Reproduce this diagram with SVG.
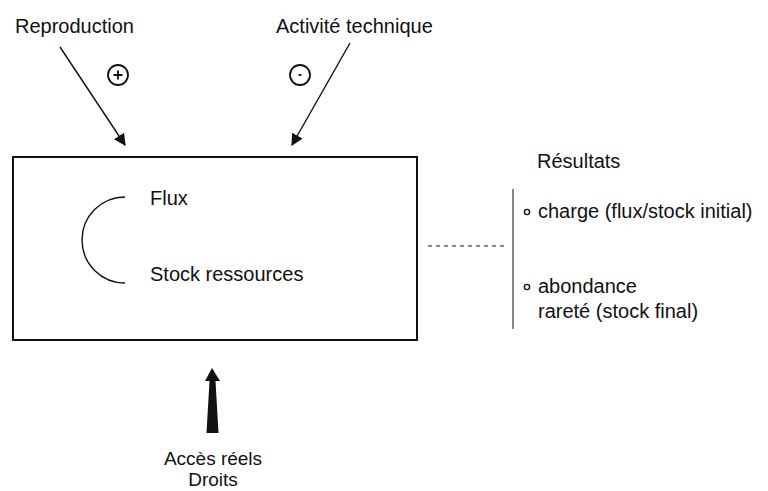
<svg xmlns="http://www.w3.org/2000/svg" width="768" height="491" viewBox="0 0 768 491">
<defs>
<style>
text{font-family:"Liberation Sans",Arial,sans-serif;font-size:20px;fill:#111}
.ln{stroke:#111;fill:none;stroke-width:1.4}
.sign{stroke:#111;fill:none;stroke-width:1.8}
.bot{font-size:19px}
</style>
<marker id="ah" viewBox="0 0 10 10" refX="9" refY="5" markerWidth="12" markerHeight="12" markerUnits="userSpaceOnUse" orient="auto">
<path d="M0,0 L10,5 L0,10 Z" fill="#111"/>
</marker>
</defs>
<rect width="768" height="491" fill="#fff"/>
<g id="reproduction">
<text x="15" y="33">Reproduction</text>
<circle cx="118" cy="75" r="10" class="sign"/>
<path d="M113.5,75 H122.5 M118,70.5 V79.5" class="sign" stroke-width="2"/>
</g>
<g id="activite">
<text x="276" y="33">Activité technique</text>
<circle cx="300" cy="75" r="10" class="sign"/>
<path d="M298.5,75 H301.5" class="sign" stroke-width="2"/>
</g>
<g id="systeme">
<rect x="13" y="157" width="404" height="183" fill="none" stroke="#111" stroke-width="2"/>
<path d="M125,197 A43,43 0 0 0 125,283" class="ln"/>
<text x="150" y="205">Flux</text>
<text x="150" y="281">Stock ressources</text>
</g>
<g id="resultats">
<text x="537" y="168">Résultats</text>
<line x1="513" y1="189" x2="513" y2="329" stroke="#111" stroke-width="1"/>
<circle cx="527" cy="212" r="2.6" class="ln" stroke-width="1.6"/>
<text x="538" y="218">charge (flux/stock initial)</text>
<circle cx="527" cy="287" r="2.6" class="ln" stroke-width="1.6"/>
<text x="538" y="293">abondance</text>
<text x="538" y="318">rareté (stock final)</text>
</g>
<g id="acces">
<text class="bot" x="213" y="465" text-anchor="middle">Accès réels</text>
<text class="bot" x="213" y="486" text-anchor="middle">Droits</text>
</g>
<g id="connectors">
<line x1="60" y1="47" x2="125" y2="145" class="ln" marker-end="url(#ah)"/>
<line x1="350" y1="43" x2="292" y2="145" class="ln" marker-end="url(#ah)"/>
<line x1="428" y1="246" x2="504" y2="246" stroke="#111" stroke-width="1" stroke-dasharray="4,4"/>
<path d="M212,368 L220,381 L215.5,381 L218.5,433 L206.5,433 L209.5,381 L205,381 Z" fill="#111"/>
</g>
</svg>
